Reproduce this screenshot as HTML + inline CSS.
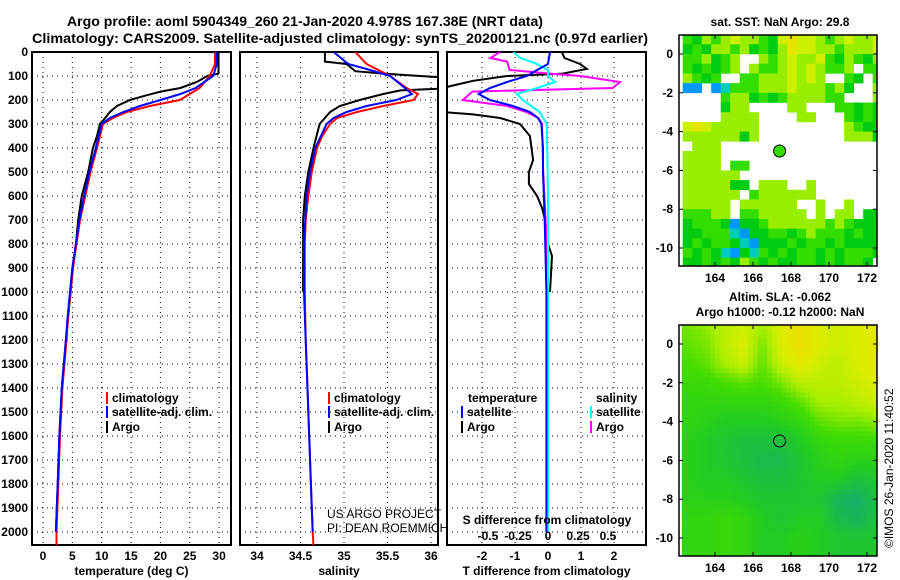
<!DOCTYPE html>
<html><head><meta charset="utf-8"><style>
body{margin:0;background:#fff;}
svg{display:block;font-family:"Liberation Sans",sans-serif;}
.b{font-weight:bold;font-size:12px;}
.n{font-weight:normal;font-size:12px;}
</style></head><body>
<svg id="s" width="900" height="580" xmlns="http://www.w3.org/2000/svg">
<text x="67" y="26" textLength="476" lengthAdjust="spacingAndGlyphs" font-size="14" font-weight="bold">Argo profile: aoml 5904349_260 21-Jan-2020 4.978S 167.38E (NRT data)</text>
<text x="32" y="43" textLength="616" lengthAdjust="spacingAndGlyphs" font-size="14" font-weight="bold">Climatology: CARS2009. Satellite-adjusted climatology: synTS_20200121.nc (0.97d earlier)</text>
<text x="780" y="26" text-anchor="middle" class="b">sat. SST: NaN Argo: 29.8</text>
<text x="780" y="301" text-anchor="middle" class="b">Altim. SLA: -0.062</text>
<text x="780" y="316" text-anchor="middle" class="b">Argo h1000: -0.12 h2000: NaN</text>
<text transform="translate(893,548) rotate(-90)" font-size="12">©IMOS 26-Jan-2020 11:40:52</text>
</svg>
<script>
// ---- data ----
const tDepth=[0,50,100,150,175,200,225,250,275,300,400,500,600,700,800,900,1000,1100,1200,1400,1600,1800,2000,2060];
const tClim=[29.3,29.3,28.4,26.7,25,23.3,18.2,14.3,11.9,10.2,9.2,8.1,7.2,6.3,5.7,5.1,4.7,4.3,4.0,3.3,2.9,2.6,2.3,2.3];
const tSatDepth=[0,50,100,150,175,200,225,250,275,300,400,500,600,700,800,900,1000,1100,1200,1400,1600,1800,2000];
const tSat=[29.6,29.6,29.0,26.0,23.4,20.0,16.5,13.7,11.4,10.0,9.0,7.9,7.0,6.2,5.6,5.0,4.6,4.2,3.9,3.2,2.8,2.5,2.2];
const tArgoDepth=[0,90,100,125,150,165,180,200,225,250,275,300,350,400,500,600,700,800,900,1000,1200,1400,1600,1800,2000];
const tArgo=[29.9,29.9,28,26.2,23.4,20,17.7,14.8,12.6,11.4,10.6,9.7,9.2,8.5,7.7,6.6,6.0,5.6,5.1,4.7,3.9,3.2,2.8,2.5,2.2];
const sDepth=[0,50,100,150,175,200,225,250,275,300,350,400,500,600,700,800,1000,1200,1400,1600,1800,2000,2060];
const sClim=[35.13,35.26,35.53,35.72,35.85,35.8,35.45,35.15,34.92,34.84,34.75,34.69,34.63,34.59,34.56,34.55,34.55,34.56,34.58,34.6,34.62,34.64,34.65];
const sSatDepth=[0,50,75,100,150,175,200,225,250,275,300,400,500,600,800,1000,1200,1400,1600,1800,2000];
const sSat=[34.88,35.05,35.3,35.53,35.7,35.78,35.6,35.26,35.03,34.88,34.8,34.67,34.61,34.57,34.54,34.54,34.56,34.58,34.6,34.62,34.64];
const sArgoDepth=[0,40,50,80,90,110,150,160,175,200,225,250,300,400,500,600,700,1000];
const sArgo=[34.78,34.78,35.03,35.13,35.45,36.3,36.3,35.65,35.45,35.18,34.95,34.84,34.72,34.65,34.59,34.55,34.53,34.53];
const dTSatDepth=[0,50,75,100,125,150,175,200,225,250,275,300,400,500,700,1000,1400,1800,2000];
const dTSat=[0.06,0,-0.33,-0.64,-1.24,-1.76,-2.1,-1.76,-1.06,-0.55,-0.3,-0.2,-0.15,-0.15,-0.1,-0.05,-0.05,-0.05,-0.05];
const dTArgoDepth=[0,25,50,70,90,100,120,150,200,250,260,275,300,350,400,450,500,550,600,650,700,800,850,1000];
const dTArgo=[0.42,0.5,0.97,1.18,0.45,-1.24,-2.27,-3.2,-3.2,-3.2,-2.27,-1.45,-0.85,-0.55,-0.5,-0.45,-0.58,-0.58,-0.33,-0.18,-0.09,0,0.12,0.06];
const dSArgoDepth=[0,25,40,75,90,100,125,150,165,200,225,250,275,300,500,800,1000];
const dSArgo=[-0.4,-0.48,-0.34,-0.32,0.02,0.27,0.6,0.54,-0.63,-0.71,-0.34,-0.18,-0.08,-0.05,-0.04,-0.01,0];
const dSSatDepth=[0,25,50,75,100,125,150,175,200,250,300,600,1000,1500,2000];
const dSSat=[-0.29,-0.23,-0.09,0,0,0.06,-0.09,-0.26,-0.21,-0.07,-0.01,0,0,0,0];
const depthTicks=[0,100,200,300,400,500,600,700,800,900,1000,1100,1200,1300,1400,1500,1600,1700,1800,1900,2000];
const tTicks=[0,5,10,15,20,25,30];
const sTicks=[34,34.5,35,35.5,36];
const dTTicks=[-2,-1,0,1,2];
const dSTicks=[-0.5,-0.25,0,0.25,0.5];
const dSTickLabels=['-0.5','-0.25','0','0.25','0.5'];
const sstRows=[
"gdlglyllgdyYyylglylly","dgdllgldgdlYyyllgllly","ggldglwwlglyllygdlgdl","gdgdglwlgglylylgglwgg",
"lgdgwwgglllylylwwgdwg","bbwbcggglllylllgldwwl","wwwwglldgdgllllggwwwl","wwwwdllwwwwllwwwggdgd",
"wwwwllllwwwwllwwwgdgd","yYylllllwwwwwwwwwlgdd","lllllldlwwwwwwwwwllld","wlllwwwwwwwwwwwwwwwww",
"llllwwwwwwwwwwwwwwwww","llllwggwwwwwwwwwwwwww","llllllwwwwwwwwwwwwwww","lllllddwlllwwlwwwwwww",
"llllllwgllllllwwwwwww","lllllwllllllwwlwwlwww","gggllwgglllllwlwllwdd","dgggdbddgllllllglgddd",
"ddgggcbddggdglgggdgdd","dgdggdcbdddgdggdgdddd","gdgdcbdcgdgdggdgdgggd","ddgdgdlgdgddggdgdggdw"];
const slaLats=[1,0,-1,-2,-3,-4,-5,-6,-7,-8,-9,-10,-11];
const slaLons=[162.5,163.5,164.5,165.5,166.5,167.5,168.5,169.5,170.5,171.5,172.5];
const sla=[
[0.6,0.65,0.75,0.8,0.7,0.85,0.95,0.85,0.8,0.85,0.9],
[0.55,0.6,0.75,0.85,0.6,0.85,1.0,0.85,0.8,0.85,0.9],
[0.5,0.55,0.7,0.8,0.55,0.8,0.9,0.8,0.75,0.85,0.9],
[0.45,0.45,0.5,0.55,0.5,0.6,0.75,0.75,0.75,0.8,0.85],
[0.4,0.4,0.4,0.4,0.4,0.45,0.55,0.7,0.7,0.75,0.8],
[0.4,0.35,0.3,0.3,0.3,0.35,0.4,0.55,0.6,0.6,0.65],
[0.35,0.3,0.25,0.2,0.2,0.2,0.3,0.4,0.45,0.45,0.45],
[0.35,0.3,0.25,0.2,0.15,0.15,0.25,0.35,0.4,0.35,0.35],
[0.35,0.3,0.3,0.25,0.2,0.2,0.25,0.3,0.3,0.2,0.25],
[0.35,0.35,0.35,0.3,0.25,0.25,0.25,0.25,0.1,0.05,0.2],
[0.4,0.4,0.45,0.4,0.3,0.25,0.3,0.3,0.15,0.1,0.2],
[0.4,0.4,0.45,0.4,0.3,0.3,0.35,0.3,0.25,0.25,0.25],
[0.4,0.4,0.45,0.4,0.3,0.3,0.35,0.3,0.25,0.25,0.25]];
const argoLon=167.4, argoLat=-5;
const lonTicks=[164,166,168,170,172];
const latTicks=[0,-2,-4,-6,-8,-10];

const NS="http://www.w3.org/2000/svg";
const svg=document.getElementById('s');
function mk(tag,attrs,parent){const e=document.createElementNS(NS,tag);for(const k in attrs)e.setAttribute(k,attrs[k]);(parent||svg).appendChild(e);return e;}
function txt(x,y,str,anchor,cls,parent){const t=mk('text',{x:x,y:y,'text-anchor':anchor||'middle','class':cls||'b'},parent);t.textContent=str;return t;}
const Y0=52,Y1=545;
const yD=d=>Y0+d*0.24;

function panel(name,x0,x1,ticks,labels,xf,title,clipId){
  const g=mk('g',{});
  
  
  depthTicks.forEach(d=>{const l=mk('line',{x1:x0,x2:x1,y1:yD(d),y2:yD(d),stroke:'#000','stroke-dasharray':'1,4','stroke-width':1},g);});
  ticks.forEach((t,i)=>{const x=xf(t);const l=mk('line',{x1:x,x2:x,y1:Y0,y2:Y1,stroke:'#000','stroke-dasharray':'1,4'},g);
    const tl=txt(x,560,labels[i],'middle','b',g);});
  const fr=mk('rect',{x:x0,y:Y0,width:x1-x0,height:Y1-Y0,fill:'none',stroke:'#000','stroke-width':2},g);
  
  if(title){const tt=txt((x0+x1)/2,575,title,'middle','b',g);}
  const cp=mk('clipPath',{id:clipId},g);mk('rect',{x:x0,y:Y0,width:x1-x0,height:Y1-Y0},cp);
  return g;
}
function series(g,depths,vals,xf,color,clipId,name){
  const pts=depths.map((d,i)=>xf(vals[i]).toFixed(1)+','+yD(d).toFixed(1)).join(' ');
  const p=mk('polyline',{points:pts,fill:'none',stroke:color,'stroke-width':2,'clip-path':'url(#'+clipId+')'},g);
  
  
}
function legend(g,x,y,color,label,name){
  const r=mk('rect',{x:x,y:y-10,width:2,height:12,fill:color},g);
  
  
  const t=txt(x+6,y,label,'start','b',g);
  
  
}
depthTicks.forEach(d=>{const t=txt(28,yD(d)+4,String(d),'end');});

const xT=t=>43+t*5.87;
const g1=panel('temperature',32,231,tTicks,tTicks.map(String),xT,'temperature (deg C)','c1');
series(g1,tArgoDepth,tArgo,xT,'#000','c1','temp-argo-line');
series(g1,tDepth,tClim,xT,'#f00','c1','temp-climatology-line');
series(g1,tSatDepth,tSat,xT,'#00f','c1','temp-satellite-line');
legend(g1,106,402,'#f00','climatology','legend-climatology');
legend(g1,106,416,'#00f','satellite-adj. clim.','legend-satellite');
legend(g1,106,431,'#000','Argo','legend-argo');

const xS=s=>257+(s-34)*87;
const g2=panel('salinity',240,438,sTicks,sTicks.map(String),xS,'salinity','c2');
series(g2,sArgoDepth,sArgo,xS,'#000','c2','sal-argo-line');
series(g2,sDepth,sClim,xS,'#f00','c2','sal-climatology-line');
series(g2,sSatDepth,sSat,xS,'#00f','c2','sal-satellite-line');
legend(g2,328,402,'#f00','climatology','legend-climatology');
legend(g2,328,416,'#00f','satellite-adj. clim.','legend-satellite');
legend(g2,328,431,'#000','Argo','legend-argo');
const u1=txt(327,518,'US ARGO PROJECT','start','n',g2);


const u2=txt(327,532,'PI: DEAN ROEMMICH','start','n',g2);



const xDT=t=>548+t*33;
const xDS=s=>548+s*120;
const g3=panel('difference',447,646,dTTicks,dTTicks.map(String),xDT,'T difference from climatology','c3');
series(g3,dTArgoDepth,dTArgo,xDT,'#000','c3','tdiff-argo-line');
series(g3,dSArgoDepth,dSArgo,xDS,'#f0f','c3','sdiff-argo-line');
series(g3,dSSatDepth,dSSat,xDS,'#0ff','c3','sdiff-satellite-line');
series(g3,dTSatDepth,dTSat,xDT,'#00f','c3','tdiff-satellite-line');
dSTicks.forEach((s,i)=>{const t=txt(xDS(s),540,dSTickLabels[i],'middle','b',g3);});
const st=txt(547,524,'S difference from climatology','middle','b',g3);

const lt=txt(468,402,'temperature','start','b',g3);
const ls=txt(596,402,'salinity','start','b',g3);
legend(g3,461,416,'#00f','satellite','legend-t-satellite');
legend(g3,461,431,'#000','Argo','legend-t-argo');
legend(g3,590,416,'#0ff','satellite','legend-s-satellite');
legend(g3,590,431,'#f0f','Argo','legend-s-argo');

const MX0=679,MX1=877;
const lonX=l=>715+(l-164)*19;
function mapFrame(name,top,bot,latY){
  const g=mk('g',{});
  
  
  const cp=mk('clipPath',{id:name+'-clip'},g);mk('rect',{x:MX0,y:top,width:MX1-MX0,height:bot-top},cp);
  const inner=mk('g',{'clip-path':'url(#'+name+'-clip)'},g);
  return {g,inner,finish(){
    mk('rect',{x:MX0,y:top,width:MX1-MX0,height:bot-top,fill:'none',stroke:'#000','stroke-width':1.5},g);
    lonTicks.forEach(l=>{const x=lonX(l);mk('line',{x1:x,x2:x,y1:bot,y2:bot-4,stroke:'#000'},g);mk('line',{x1:x,x2:x,y1:top,y2:top+4,stroke:'#000'},g);
      const t=txt(x,bot+16,String(l),'middle','b',g);});
    latTicks.forEach(l=>{const y=latY(l);mk('line',{x1:MX0,x2:MX0+4,y1:y,y2:y,stroke:'#000'},g);mk('line',{x1:MX1,x2:MX1-4,y1:y,y2:y,stroke:'#000'},g);
      const t=txt(673,y+4,String(l),'end','b',g);});
  }};
}
const sstColors={g:'#33dd00',d:'#00cc11',l:'#99ee00',y:'#ccf000',Y:'#e6e400',b:'#0099ff',c:'#00ccbb',w:'#ffffff'};
const lat1=l=>54+(0-l)*19.4;
const m1=mapFrame('sst-map',35,266,lat1);
sstRows.forEach((row,r)=>{for(let c=0;c<row.length;c++){const ch=row[c];if(ch==='w')continue;
  const lon0=162.3+c*0.5, la0=1-r*0.5;
  const x=lonX(lon0),y=lat1(la0);
  const e=mk('rect',{x:x.toFixed(1),y:y.toFixed(1),width:9.8,height:10,fill:sstColors[ch]},m1.inner);
  }});
const a1=mk('circle',{cx:lonX(argoLon),cy:lat1(argoLat),r:6,fill:'#33dd00',stroke:'#000','stroke-width':1},m1.g);

m1.finish();

const lat2=l=>344+(0-l)*19.4;
const stops=[[0,[17,170,119]],[0.3,[34,204,34]],[0.5,[68,221,0]],[0.7,[170,238,0]],[0.85,[221,238,0]],[1,[238,221,0]]];
function cmap(v){for(let i=1;i<stops.length;i++){if(v<=stops[i][0]){const a=stops[i-1],b=stops[i];const f=(v-a[0])/(b[0]-a[0]);return 'rgb('+a[1].map((q,k)=>Math.round(q+(b[1][k]-q)*f)).join(',')+')';}}return 'rgb(238,221,0)';}
function slaAt(lon,lat){
  let fi=(slaLats[0]-lat), fj=(lon-slaLons[0]);
  fi=Math.max(0,Math.min(slaLats.length-1.001,fi));fj=Math.max(0,Math.min(slaLons.length-1.001,fj));
  const i=Math.floor(fi),j=Math.floor(fj),u=fi-i,v=fj-j;
  return sla[i][j]*(1-u)*(1-v)+sla[i+1][j]*u*(1-v)+sla[i][j+1]*(1-u)*v+sla[i+1][j+1]*u*v;}
const m2=mapFrame('sla-map',325,556,lat2);
for(let la=1.25;la>-11.25;la-=0.25){for(let lo=162.25;lo<172.75;lo+=0.25){
  const e=mk('rect',{x:lonX(lo).toFixed(1),y:lat2(la).toFixed(1),width:5.2,height:5.3,fill:cmap(slaAt(lo+0.125,la-0.125))},m2.inner);
  }}
const a2=mk('circle',{cx:lonX(argoLon),cy:lat2(argoLat),r:6,fill:'none',stroke:'#000','stroke-width':1},m2.g);

m2.finish();
</script>
</body></html>
